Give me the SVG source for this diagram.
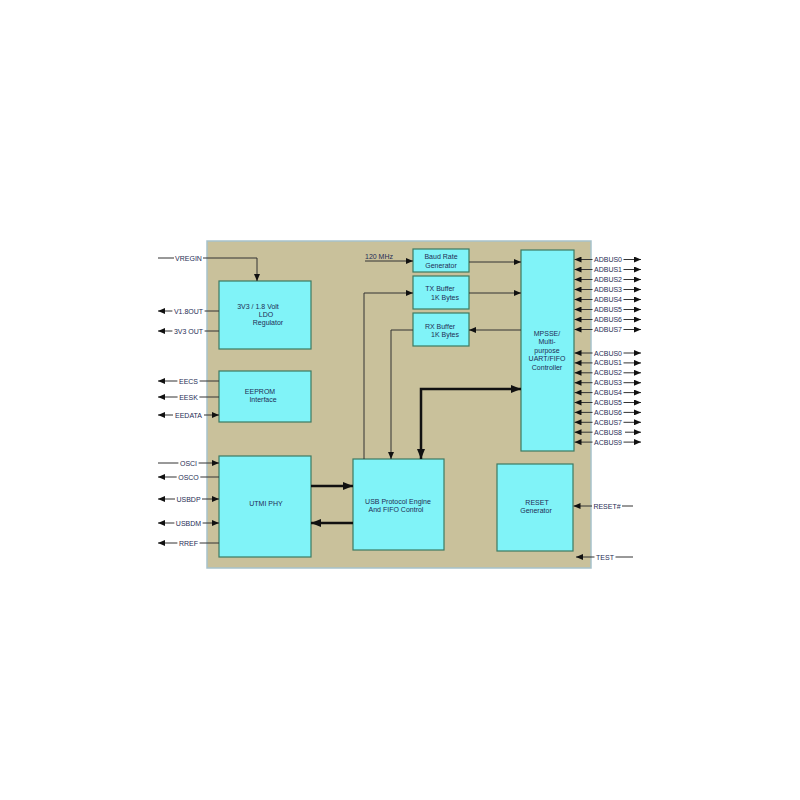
<svg xmlns="http://www.w3.org/2000/svg" width="800" height="800" viewBox="0 0 800 800">
<defs>
<style>
.chip{fill:#c9c19b;stroke:#a6c2cb;stroke-width:1.5}
.box{fill:#80f3f8;stroke:#3d7a62;stroke-width:1.2}
text{font-family:"Liberation Sans",Arial,sans-serif;font-size:7px;fill:#1f2d55}
.c{text-anchor:middle}
.ln{fill:none;stroke:#333;stroke-width:1}
.th{fill:none;stroke:#111;stroke-width:2.5}
.a{marker-end:url(#ar)}
.aa{marker-start:url(#ar);marker-end:url(#ar)}
.t{marker-end:url(#tr)}
.tt{marker-start:url(#tr);marker-end:url(#tr)}
</style>
<marker id="ar" viewBox="0 0 7 6" refX="7" refY="3" markerWidth="7" markerHeight="6" markerUnits="userSpaceOnUse" orient="auto-start-reverse"><path d="M0,0 L7,3 L0,6 z" fill="#111"/></marker>
<marker id="tr" viewBox="0 0 10 8" refX="10" refY="4" markerWidth="10" markerHeight="8" markerUnits="userSpaceOnUse" orient="auto-start-reverse"><path d="M0,0 L10,4 L0,8 z" fill="#111"/></marker>
</defs>
<rect width="800" height="800" fill="#fff"/>
<rect id="chip" class="chip" x="207" y="241" width="384" height="327"/>

<g id="ldo"><rect class="box" x="219" y="281" width="92" height="68"/><text x="258" y="308.5" class="c">3V3 / 1.8 Volt</text><text x="266" y="316.5" class="c">LDO</text><text x="268" y="324.5" class="c">Regulator</text></g>
<g id="eeprom"><rect class="box" x="219" y="371" width="92" height="51"/><text x="260" y="393.5" class="c">EEPROM</text><text x="263" y="402" class="c">Interface</text></g>
<g id="utmi"><rect class="box" x="219" y="456" width="92" height="101"/><text x="266" y="505.5" class="c">UTMI PHY</text></g>
<g id="usb"><rect class="box" x="353" y="459" width="91" height="91"/><text x="398" y="503.5" class="c">USB Protocol Engine</text><text x="396" y="511.5" class="c">And FIFO Control</text></g>
<g id="reset"><rect class="box" x="497" y="464" width="76" height="87"/><text x="537" y="504.5" class="c">RESET</text><text x="536" y="512.5" class="c">Generator</text></g>
<g id="baud"><rect class="box" x="413" y="249" width="56" height="23"/><text x="441" y="259" class="c">Baud Rate</text><text x="441" y="268" class="c">Generator</text></g>
<g id="tx"><rect class="box" x="413" y="276" width="56" height="33"/><text x="440" y="290.5" class="c">TX Buffer</text><text x="445" y="299.5" class="c">1K Bytes</text></g>
<g id="rx"><rect class="box" x="413" y="313" width="56" height="33"/><text x="440" y="328.5" class="c">RX Buffer</text><text x="445" y="336.5" class="c">1K Bytes</text></g>
<g id="mpsse"><rect class="box" x="521" y="250" width="53" height="201"/><text x="547" y="335.5" class="c">MPSSE/</text><text x="547" y="344" class="c">Multi-</text><text x="547" y="352.5" class="c">purpose</text><text x="547" y="361" class="c">UART/FIFO</text><text x="547" y="369.5" class="c">Controller</text></g>

<g id="connectors">
<!-- internal -->
<path class="ln a" d="M365,261 H413"/>
<path class="ln a" d="M469,262 H521"/>
<path class="ln a" d="M364,459 V293 H413"/>
<path class="ln a" d="M469,293 H521"/>
<path class="ln a" d="M521,330 H469"/>
<path class="ln a" d="M413,330 H391 V459"/>
<path class="th tt" d="M421,459 V389 H521"/>
<path class="th t" d="M311,486 H353"/>
<path class="th t" d="M353,523 H311"/>
<!-- VREGIN -->
<path class="ln" d="M158,258 H174"/>
<path class="ln a" d="M203,258 H257 V281"/>
<!-- left pins -->
<path class="ln a" d="M172.4,311 H158"/><path class="ln" d="M204.6,311 H219"/>
<path class="ln a" d="M172.4,331 H158"/><path class="ln" d="M204.6,331 H219"/>
<path class="ln a" d="M177.4,381 H158"/><path class="ln" d="M199.6,381 H219"/>
<path class="ln a" d="M177.6,397 H158"/><path class="ln" d="M199.4,397 H219"/>
<path class="ln a" d="M173,415 H158"/><path class="ln a" d="M204,415 H219"/>
<path class="ln" d="M158,463 H178.4"/><path class="ln a" d="M198.6,463 H219"/>
<path class="ln a" d="M176.7,477 H158"/><path class="ln" d="M200.3,477 H219"/>
<path class="ln a" d="M175,499 H158"/><path class="ln a" d="M202,499 H219"/>
<path class="ln a" d="M174.4,523 H158"/><path class="ln a" d="M202.6,523 H219"/>
<path class="ln a" d="M177.4,543 H158"/><path class="ln" d="M199.6,543 H219"/>
<!-- ADBUS -->
<path class="ln a" d="M592.5,259.5 H574.5"/><path class="ln a" d="M623.5,259.5 H641"/>
<path class="ln a" d="M592.5,269.5 H574.5"/><path class="ln a" d="M623.5,269.5 H641"/>
<path class="ln a" d="M592.5,279.5 H574.5"/><path class="ln a" d="M623.5,279.5 H641"/>
<path class="ln a" d="M592.5,289.5 H574.5"/><path class="ln a" d="M623.5,289.5 H641"/>
<path class="ln a" d="M592.5,299.5 H574.5"/><path class="ln a" d="M623.5,299.5 H641"/>
<path class="ln a" d="M592.5,309.5 H574.5"/><path class="ln a" d="M623.5,309.5 H641"/>
<path class="ln a" d="M592.5,319.5 H574.5"/><path class="ln a" d="M623.5,319.5 H641"/>
<path class="ln a" d="M592.5,329.5 H574.5"/><path class="ln a" d="M623.5,329.5 H641"/>
<!-- ACBUS -->
<path class="ln a" d="M592.5,353 H574.5"/><path class="ln a" d="M623.5,353 H641"/>
<path class="ln a" d="M592.5,362.9 H574.5"/><path class="ln a" d="M623.5,362.9 H641"/>
<path class="ln a" d="M592.5,372.8 H574.5"/><path class="ln a" d="M623.5,372.8 H641"/>
<path class="ln a" d="M592.5,382.7 H574.5"/><path class="ln a" d="M623.5,382.7 H641"/>
<path class="ln a" d="M592.5,392.6 H574.5"/><path class="ln a" d="M623.5,392.6 H641"/>
<path class="ln a" d="M592.5,402.5 H574.5"/><path class="ln a" d="M623.5,402.5 H641"/>
<path class="ln a" d="M592.5,412.4 H574.5"/><path class="ln a" d="M623.5,412.4 H641"/>
<path class="ln a" d="M592.5,422.3 H574.5"/><path class="ln a" d="M623.5,422.3 H641"/>
<path class="ln a" d="M592.5,432.2 H574.5"/><path class="ln a" d="M625,432.2 H641"/>
<path class="ln a" d="M592.5,442.1 H574.5"/><path class="ln a" d="M623.5,442.1 H641"/>
<!-- RESET#, TEST -->
<path class="ln a" d="M592,506 H573.5"/><path class="ln" d="M622,506 H633"/>
<path class="ln a" d="M594.5,557 H576"/><path class="ln" d="M615.5,557 H633"/>
</g>

<g id="labels">
<text x="188.5" y="260.5" class="c">VREGIN</text>
<text x="379" y="259" class="c">120 MHz</text>
<text x="188.5" y="313.5" class="c">V1.8OUT</text>
<text x="188.5" y="333.5" class="c">3V3 OUT</text>
<text x="188.5" y="383.5" class="c">EECS</text>
<text x="188.5" y="399.5" class="c">EESK</text>
<text x="188.5" y="417.5" class="c">EEDATA</text>
<text x="188.5" y="465.5" class="c">OSCI</text>
<text x="188.5" y="479.5" class="c">OSCO</text>
<text x="188.5" y="501.5" class="c">USBDP</text>
<text x="188.5" y="525.5" class="c">USBDM</text>
<text x="188.5" y="545.5" class="c">RREF</text>
<text x="608" y="262" class="c">ADBUS0</text>
<text x="608" y="272" class="c">ADBUS1</text>
<text x="608" y="282" class="c">ADBUS2</text>
<text x="608" y="292" class="c">ADBUS3</text>
<text x="608" y="302" class="c">ADBUS4</text>
<text x="608" y="312" class="c">ADBUS5</text>
<text x="608" y="322" class="c">ADBUS6</text>
<text x="608" y="332" class="c">ADBUS7</text>
<text x="608" y="355.5" class="c">ACBUS0</text>
<text x="608" y="365.4" class="c">ACBUS1</text>
<text x="608" y="375.3" class="c">ACBUS2</text>
<text x="608" y="385.2" class="c">ACBUS3</text>
<text x="608" y="395.1" class="c">ACBUS4</text>
<text x="608" y="405" class="c">ACBUS5</text>
<text x="608" y="414.9" class="c">ACBUS6</text>
<text x="608" y="424.8" class="c">ACBUS7</text>
<text x="608" y="434.7" class="c">ACBUS8</text>
<text x="608" y="444.6" class="c">ACBUS9</text>
<text x="607" y="508.5" class="c">RESET#</text>
<text x="605" y="559.5" class="c">TEST</text>
</g>
</svg>
